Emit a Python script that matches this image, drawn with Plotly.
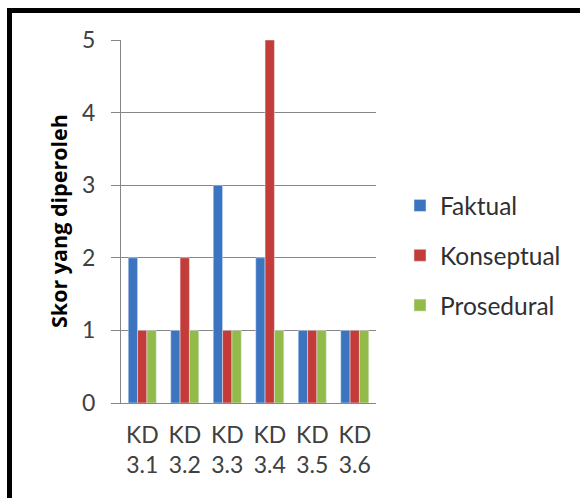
import plotly.graph_objects as go

categories = ["KD<br>3.1", "KD<br>3.2", "KD<br>3.3", "KD<br>3.4", "KD<br>3.5", "KD<br>3.6"]
faktual = [2, 1, 3, 2, 1, 1]
konseptual = [1, 2, 1, 5, 1, 1]
prosedural = [1, 1, 1, 1, 1, 1]
y_ticks = [0, 1, 2, 3, 4, 5]

FONT = "Lato"
W, H = 580, 498
L, R, T, B = 121, 376, 40, 403

fig = go.Figure()
fig.add_trace(go.Bar(name="Faktual", x=categories, y=faktual, marker_color="#3d74c0", legendgroup="a"))
fig.add_trace(go.Bar(name="Konseptual", x=categories, y=konseptual, marker_color="#c43c39", legendgroup="b"))
fig.add_trace(go.Bar(name="Prosedural", x=categories, y=prosedural, marker_color="#92bb4a", legendgroup="c"))

def px_x(p):
    return (p - L) / (R - L)

def px_y(p):
    return (B - p) / (B - T)

fig.update_layout(
    width=W, height=H,
    margin=dict(l=L, r=W - R, t=T, b=H - B, pad=0),
    paper_bgcolor="white", plot_bgcolor="white",
    barmode="group", bargap=0.34, bargroupgap=0,
    font=dict(family=FONT, size=23, color="#404040"),
    showlegend=True,
    legend=dict(x=px_x(400), y=px_y(183), xanchor="left", yanchor="top",
                font=dict(family=FONT, size=24.5, color="#303030"),
                tracegroupgap=15, bgcolor="rgba(0,0,0,0)"),
    xaxis=dict(showline=True, linecolor="#868686", linewidth=1, ticks="",
               ticklabelstandoff=11,
               tickfont=dict(family=FONT, size=23, color="#404040"),
               showgrid=False),
    yaxis=dict(range=[0, 5], tickvals=y_ticks, showgrid=True, gridcolor="#868686",
               gridwidth=1, showline=True, linecolor="#868686", linewidth=1,
               ticks="outside", ticklen=9, tickcolor="#868686",
               ticklabelstandoff=11,
               tickfont=dict(family=FONT, size=23, color="#404040"), zeroline=False),
    shapes=[dict(type="rect", xref="paper", yref="paper",
                 x0=px_x(9.5), y0=px_y(520), x1=px_x(600), y1=px_y(10.5),
                 line=dict(color="black", width=5), fillcolor="rgba(0,0,0,0)",
                 layer="above")],
    annotations=[dict(text="<b>Skor yang diperoleh</b>", textangle=-90,
                      xref="paper", yref="paper", x=px_x(58), y=px_y(221),
                      xanchor="center", yanchor="middle",
                      showarrow=False, font=dict(family="Open Sans", size=21.5, color="black"))],
)

fig.write_html("out.html", config={"displayModeBar": False},
               post_script="document.body.style.margin='0';document.body.style.padding='0';")
